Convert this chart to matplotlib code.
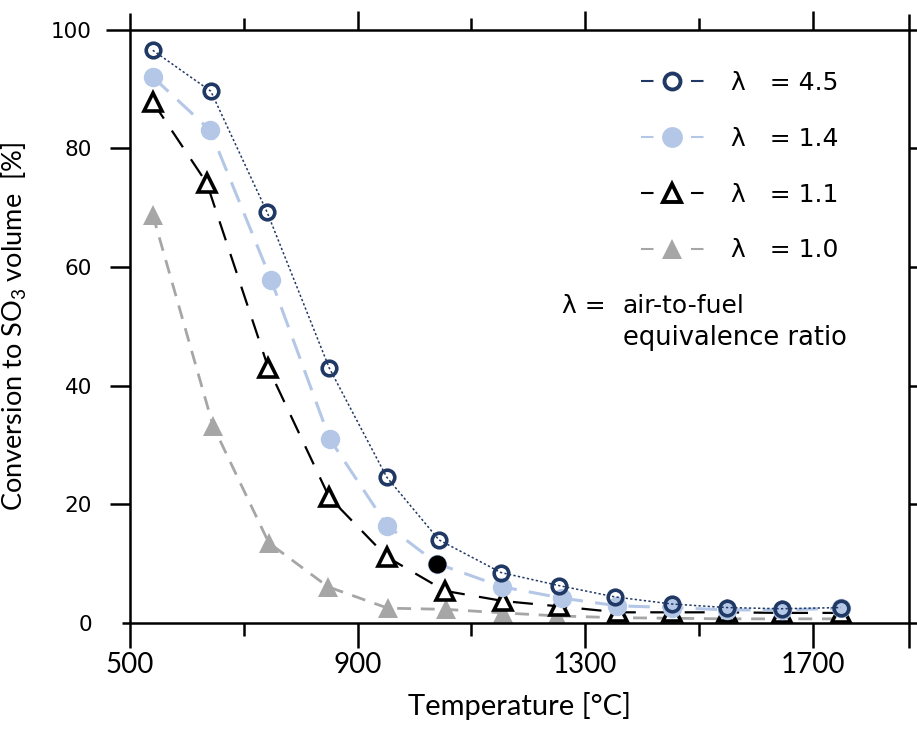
import matplotlib
matplotlib.use("Agg")
import matplotlib.pyplot as plt
from matplotlib.lines import Line2D

# ---------------- data ----------------
x_45 = [540, 642, 741, 850, 951, 1043, 1152, 1254, 1352, 1452, 1549, 1645, 1749]
y_45 = [96.5, 89.6, 69.2, 43.0, 24.6, 14.0, 8.5, 6.3, 4.4, 3.2, 2.6, 2.4, 2.6]
x_14 = [540, 641, 748, 851, 952, 1040, 1154, 1259, 1356, 1453, 1549, 1646, 1750]
y_14 = [92.0, 83.0, 57.8, 31.0, 16.4, 10.0, 6.1, 4.2, 2.9, 2.6, 2.2, 2.2, 2.5]
x_11 = [540, 635, 743, 850, 952, 1054, 1156, 1254, 1358, 1453, 1549, 1646, 1750]
y_11 = [87.8, 74.1, 43.0, 21.2, 11.1, 5.4, 3.7, 2.8, 1.8, 1.8, 1.8, 1.7, 1.7]
x_10 = [540, 646, 744, 848, 953, 1055, 1156, 1250, 1352, 1453, 1549, 1646, 1750]
y_10 = [68.8, 33.2, 13.5, 6.1, 2.5, 2.3, 1.7, 1.2, 0.9, 0.8, 0.7, 0.7, 0.7]
odd_index_14 = 5  # point of the lambda=1.4 series drawn in black

labels = ["λ   = 4.5", "λ   = 1.4", "λ   = 1.1", "λ   = 1.0"]
x_major = [500, 900, 1300, 1700]
x_minor = [700, 1100, 1500]
y_major = [0, 20, 40, 60, 80, 100]

NAVY = "#203864"
LBLUE = "#B4C7E7"
GRAY = "#A6A6A6"
BLACK = "#000000"

NARROW = ["Lato", "Liberation Sans", "DejaVu Sans"]
WIDE = ["DejaVu Sans"]
plt.rcParams["mathtext.default"] = "regular"

fig = plt.figure(figsize=(9.17, 7.29), dpi=100)
ax = fig.add_axes([130 / 917, 1 - 623 / 729, 779 / 917, 593.5 / 729])
ax.set_xlim(500, 1869)
ax.set_ylim(0, 100)

# ---------------- series ----------------
ax.plot(x_10, y_10, color=GRAY, lw=2.0, linestyle=(0, (5, 3.5)),
        marker="^", ms=14.5, mfc=GRAY, mec=GRAY, mew=0, zorder=3)
ax.plot(x_11, y_11, color=BLACK, lw=1.6, linestyle=(0, (9, 6.5)),
        marker="^", ms=13.5, mfc="white", mec=BLACK, mew=2.6, zorder=4)
ax.plot(x_14, y_14, color=LBLUE, lw=2.2, linestyle=(0, (7, 4)),
        marker="o", ms=14, mfc=LBLUE, mec=LBLUE, mew=0, zorder=5)
ax.plot([x_14[odd_index_14]], [y_14[odd_index_14]], linestyle="none",
        marker="o", ms=13, mfc=BLACK, mec=BLACK, mew=0, zorder=5.5)
ax.plot(x_45, y_45, color=NAVY, lw=1.1, linestyle=(0, (1.5, 1.5)),
        marker="o", ms=10.5, mfc="none", mec=NAVY, mew=2.6, zorder=6)

# ---------------- frame ----------------
for spine in ax.spines.values():
    spine.set_visible(False)
frame_kw = dict(color="black", lw=1.8, transform=ax.transAxes, clip_on=False,
                solid_capstyle="butt", zorder=7)
ax.add_line(Line2D([0, 0], [-0.042, 1.028], **frame_kw))
ax.add_line(Line2D([1, 1], [-0.042, 1.026], **frame_kw))
ax.add_line(Line2D([-0.0103, 1.02], [0, 0], **frame_kw))
ax.add_line(Line2D([-0.031, 1.02], [1, 1], **frame_kw))

ax.set_xticks(x_major)
ax.set_xticks(x_minor, minor=True)
ax.set_yticks(y_major)
ax.tick_params(axis="x", which="major", direction="out", length=18, width=1.8,
               top=True, bottom=True, pad=3, labelsize=20)
ax.tick_params(axis="x", which="minor", direction="out", length=9.4, width=1.8,
               top=True, bottom=True)
ax.tick_params(axis="y", which="major", direction="out", length=14.4, width=1.8,
               left=True, right=True, pad=13, labelsize=15.5)
for t in ax.xaxis.get_major_ticks():
    t.tick2line.set_markersize(13.5)
for t in ax.xaxis.get_minor_ticks():
    t.tick2line.set_markersize(8.6)
xt = ax.xaxis.get_major_ticks()
xt[0].tick1line.set_visible(False)
xt[0].tick2line.set_visible(False)
yt = ax.yaxis.get_major_ticks()
yt[0].tick1line.set_visible(False)
yt[0].tick2line.set_visible(False)
yt[-1].tick1line.set_visible(False)
yt[-1].tick2line.set_visible(False)

for lab in ax.get_xticklabels():
    lab.set_family(NARROW)
for lab in ax.get_yticklabels():
    lab.set_family(WIDE)

ax.set_xlabel("Temperature [°C]", family=NARROW, fontsize=21, labelpad=10)
ax.set_ylabel("Conversion to SO$_3$ volume  [%]", family=NARROW, fontsize=19.5,
              labelpad=16)

# ---------------- legend ----------------
hl = 1.5
dash = (0, (9 / hl, 27 / hl))
handles = [
    Line2D([], [], color=NAVY, lw=hl, linestyle=dash,
           marker="o", ms=11.5, mfc="none", mec=NAVY, mew=2.8),
    Line2D([], [], color=LBLUE, lw=hl, linestyle=dash,
           marker="o", ms=15, mfc=LBLUE, mec=LBLUE, mew=0),
    Line2D([], [], color=BLACK, lw=hl, linestyle=dash,
           marker="^", ms=13.5, mfc="white", mec=BLACK, mew=2.8),
    Line2D([], [], color=GRAY, lw=hl, linestyle=dash,
           marker="^", ms=14.5, mfc=GRAY, mec=GRAY, mew=0),
]
leg = ax.legend(handles, labels, loc="upper left",
                bbox_to_anchor=(641 / 917, 1 - 71 / 729),
                bbox_transform=fig.transFigure, frameon=False,
                prop={"family": WIDE, "size": 18}, handlelength=2.5,
                handletextpad=1.1, labelspacing=1.27, borderpad=0,
                borderaxespad=0)
leg.set_zorder(8)

fig.text(562 / 917, 1 - 313 / 729, "λ =", family=WIDE, fontsize=18,
         ha="left", va="baseline")
fig.text(623 / 917, 1 - 313 / 729, "air-to-fuel", family=WIDE, fontsize=18,
         ha="left", va="baseline")
fig.text(623 / 917, 1 - 345 / 729, "equivalence ratio", family=WIDE,
         fontsize=18.5, ha="left", va="baseline")

fig.savefig("out.png", dpi=100)
